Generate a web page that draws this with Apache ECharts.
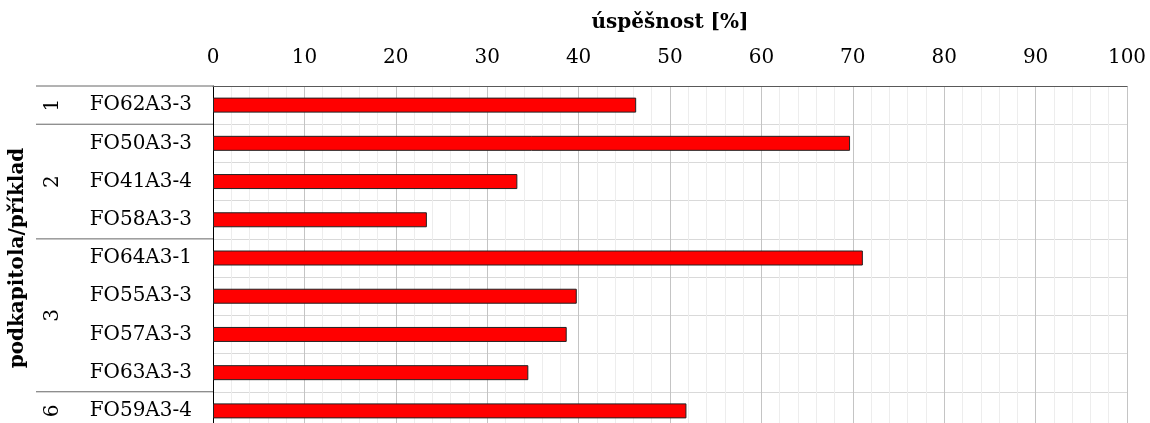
<!DOCTYPE html>
<html>
<head>
<meta charset="utf-8">
<script src="https://cdn.jsdelivr.net/npm/echarts@6/dist/echarts.min.js"></script>
<style>
html,body{margin:0;padding:0;background:#fff;}
#chart{width:1150px;height:423px;}
</style>
</head>
<body>
<div id="chart"></div>
<script>
// Data
var categories = ['FO62A3-3','FO50A3-3','FO41A3-4','FO58A3-3','FO64A3-1','FO55A3-3','FO57A3-3','FO63A3-3','FO59A3-4'];
var values = [46.3, 69.7, 33.3, 23.4, 71.1, 39.8, 38.7, 34.5, 51.8];
var groupNames = ['1','2','3','6'];
var groupSizes = [1, 3, 4, 1];
var xTitle = 'úspěšnost [%]';
var yTitle = 'podkapitola/příklad';

var FONT = '"DejaVu Serif", serif';
var chart = echarts.init(document.getElementById('chart'), null, {renderer:'canvas'});

var option = {
  animation: false,
  backgroundColor: '#fff',
  grid: {left: 213, right: 23, top: 86, height: 344, containLabel: false, outerBoundsMode: 'none'},
  xAxis: {
    type: 'value', position: 'top', min: 0, max: 100, interval: 10,
    name: xTitle, nameLocation: 'middle', nameGap: 53,
    nameTextStyle: {fontFamily: FONT, fontWeight: 'bold', fontSize: 20, color: '#000'},
    axisLine: {show: true, lineStyle: {color: '#595959', width: 1}},
    axisTick: {show: false},
    minorTick: {show: false, splitNumber: 5},
    axisLabel: {fontFamily: FONT, fontSize: 20, color: '#000', margin: 18},
    splitLine: {show: true, lineStyle: {color: '#c4c4c4', width: 1}},
    minorSplitLine: {show: true, lineStyle: {color: '#ededed', width: 1}}
  },
  yAxis: {
    type: 'category', inverse: true, data: categories,
    name: yTitle, nameLocation: 'middle', nameGap: 185, nameRotate: 90,
    nameTextStyle: {fontFamily: FONT, fontWeight: 'bold', fontSize: 20, color: '#000'},
    axisLine: {show: true, lineStyle: {color: '#000', width: 1}},
    axisTick: {show: false},
    axisLabel: {fontFamily: FONT, fontSize: 20, color: '#000', margin: 21, interval: 0},
    splitLine: {show: true, interval: 0, lineStyle: {color: '#d9d9d9', width: 1}}
  },
  series: [{
    type: 'bar', data: values, barWidth: 15,
    itemStyle: {color: '#ff0000', borderColor: '#222', borderWidth: 1}
  }]
};
chart.setOption(option);

// Group labels and separators, positioned via the axis scale
var centers = categories.map(function(c){ return chart.convertToPixel({yAxisIndex: 0}, c); });
var rowH = centers[1] - centers[0];
var graphics = [];
var xLeft = 36, xAxisPos = chart.convertToPixel({xAxisIndex: 0}, 0);
var idx = 0;
graphics.push({type:'line', shape:{x1:xLeft, y1:centers[0]-rowH/2, x2:xAxisPos, y2:centers[0]-rowH/2}, style:{stroke:'#666', lineWidth:1}, silent:true});
for (var g = 0; g < groupNames.length; g++) {
  var first = idx, last = idx + groupSizes[g] - 1;
  var yc = (centers[first] + centers[last]) / 2;
  graphics.push({type:'text', x: 53, y: yc, rotation: Math.PI/2,
    style:{text: groupNames[g], font: '20px ' + FONT, fill:'#000', align:'center', verticalAlign:'middle'}, silent:true});
  if (g < groupNames.length - 1) {
    var yb = centers[last] + rowH/2;
    graphics.push({type:'line', shape:{x1:xLeft, y1:yb, x2:xAxisPos, y2:yb}, style:{stroke:'#666', lineWidth:1}, silent:true});
  }
  idx += groupSizes[g];
}
chart.setOption({graphic: graphics});
</script>
</body>
</html>
